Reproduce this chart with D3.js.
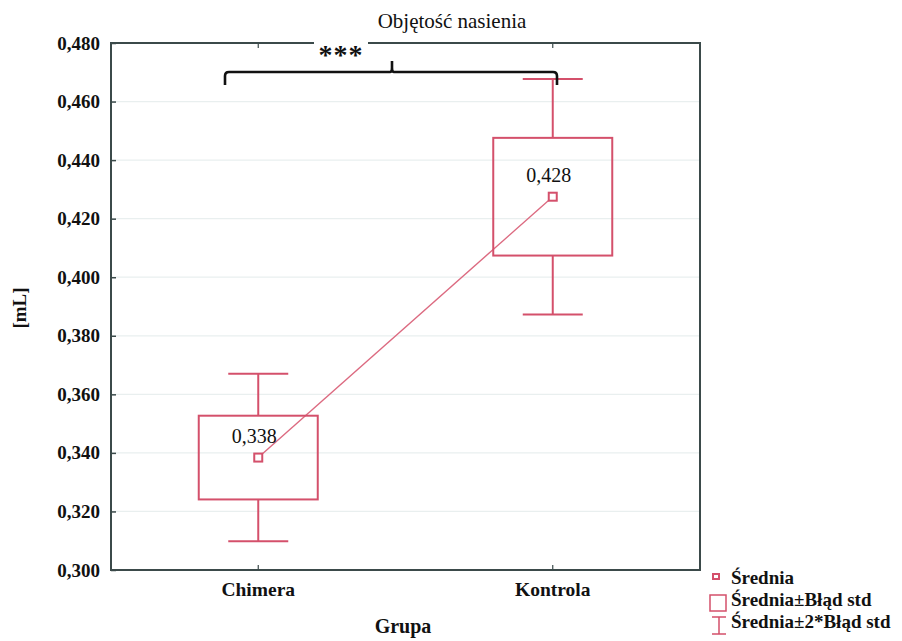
<!DOCTYPE html>
<html>
<head>
<meta charset="utf-8">
<script src="https://cdn.jsdelivr.net/npm/d3@7.9.0/dist/d3.min.js"></script>
<style>
  body { margin: 0; background: #fff; }
</style>
</head>
<body>
<svg width="902" height="641"></svg>
<script>
// data
const groups = ['Chimera', 'Kontrola'];
const means = [0.3384, 0.4275];
const stdErr = [0.0143, 0.0201];
const meanLabels = ['0,338', '0,428'];
const yTicks = [0.300, 0.320, 0.340, 0.360, 0.380, 0.400, 0.420, 0.440, 0.460, 0.480];

const red = '#d4506b';
const axisCol = '#3b4a4a';
const serif = '"Liberation Serif", "Times New Roman", serif';

const svg = d3.select('svg');
const plotL = 111, plotR = 700, plotT = 43, plotB = 570;

let x = d3.scaleBand().domain(groups).range([plotL, plotR]);
let y = d3.scaleLinear().domain([0.300, 0.480]).range([plotB, plotT]);

// gridlines
svg.append('g')
  .selectAll('line')
  .data(yTicks.slice(1, -1))
  .join('line')
  .attr('x1', plotL).attr('x2', plotR)
  .attr('y1', d => y(d)).attr('y2', d => y(d))
  .attr('stroke', '#e9efef').attr('stroke-width', 1.2);

// y axis
let fmt = d => d3.format('.3f')(d).replace('.', ',');
let yAxis = svg.append('g')
  .attr('transform', `translate(${plotL},0)`)
  .call(d3.axisLeft(y).tickValues(yTicks).tickFormat(fmt).tickSize(-5).tickPadding(11));
yAxis.select('.domain').remove();
yAxis.selectAll('line').attr('stroke', axisCol).attr('stroke-width', 1.5);
yAxis.selectAll('text').style('font-size', '19px').style('font-weight', 'bold');

// x axis
let xAxis = svg.append('g')
  .attr('transform', `translate(0,${plotB})`)
  .call(d3.axisBottom(x).tickSize(-5).tickPadding(12));
xAxis.select('.domain').remove();
xAxis.selectAll('line').attr('stroke', axisCol).attr('stroke-width', 1.2);
xAxis.selectAll('text').style('font-size', '19.5px').style('font-weight', 'bold');

// top ticks
svg.append('g').selectAll('line').data(groups).join('line')
  .attr('x1', d => x(d) + x.bandwidth() / 2).attr('x2', d => x(d) + x.bandwidth() / 2)
  .attr('y1', plotT).attr('y2', plotT + 5)
  .attr('stroke', axisCol).attr('stroke-width', 1.2);

// frame
svg.append('rect')
  .attr('x', plotL).attr('y', plotT)
  .attr('width', plotR - plotL).attr('height', plotB - plotT)
  .attr('fill', 'none').attr('stroke', axisCol).attr('stroke-width', 2);

// line between means
let cx = i => x(groups[i]) + x.bandwidth() / 2;
svg.append('path')
  .attr('d', d3.line()(means.map((m, i) => [cx(i), y(m)])))
  .attr('stroke', '#dc6a80').attr('stroke-width', 1.4).attr('fill', 'none');

const boxW = 119, capW = 60;
groups.forEach((g, i) => {
  let c = cx(i), m = means[i], se = stdErr[i];
  let grp = svg.append('g').attr('stroke', red).attr('stroke-width', 2).attr('fill', 'none');
  // whiskers
  grp.append('line').attr('x1', c).attr('x2', c).attr('y1', y(m + 2 * se)).attr('y2', y(m + se));
  grp.append('line').attr('x1', c).attr('x2', c).attr('y1', y(m - se)).attr('y2', y(m - 2 * se));
  grp.append('line').attr('x1', c - capW / 2).attr('x2', c + capW / 2).attr('y1', y(m + 2 * se)).attr('y2', y(m + 2 * se));
  grp.append('line').attr('x1', c - capW / 2).attr('x2', c + capW / 2).attr('y1', y(m - 2 * se)).attr('y2', y(m - 2 * se));
  // box
  grp.append('rect')
    .attr('x', c - boxW / 2).attr('y', y(m + se))
    .attr('width', boxW).attr('height', y(m - se) - y(m + se));
  // mean marker
  grp.append('rect')
    .attr('x', c - 4).attr('y', y(m) - 4).attr('width', 8).attr('height', 8)
    .attr('fill', '#fff');
  // label
  svg.append('text')
    .attr('x', c - 4).attr('y', y(m) - 15)
    .attr('text-anchor', 'middle').style('font-size', '20px')
    .text(meanLabels[i]);
});

// significance bracket
let bx1 = 225, bx2 = 557, by = 72, mid = 392;
svg.append('path')
  .attr('d', `M${bx1},${by + 13} L${bx1},${by + 4} Q${bx1},${by} ${bx1 + 4},${by}
    L${mid - 2},${by} Q${mid},${by} ${mid},${by - 4} L${mid},${by - 11} L${mid},${by - 4} Q${mid},${by} ${mid + 2},${by}
    L${bx2 - 4},${by} Q${bx2},${by} ${bx2},${by + 4} L${bx2},${by + 13}`)
  .attr('fill', 'none').attr('stroke', '#111').attr('stroke-width', 2.6);

svg.append('rect').attr('x', 314).attr('y', 40).attr('width', 54).attr('height', 6).attr('fill', '#fff');
svg.append('text')
  .attr('x', 341).attr('y', 64)
  .attr('text-anchor', 'middle').style('font-size', '28px').style('font-weight', 'bold')
  .attr('letter-spacing', 1)
  .text('***');

// titles
svg.append('text')
  .attr('x', 452).attr('y', 28)
  .attr('text-anchor', 'middle').style('font-size', '21px')
  .text('Objętość nasienia');
svg.append('text')
  .attr('x', 403).attr('y', 633)
  .attr('text-anchor', 'middle').style('font-size', '20px').style('font-weight', 'bold')
  .text('Grupa');
svg.append('text')
  .attr('transform', 'translate(26,308) rotate(-90)')
  .attr('text-anchor', 'middle').style('font-size', '19px').style('font-weight', 'bold')
  .text('[mL]');

// legend
const legendItems = ['Średnia', 'Średnia±Błąd std', 'Średnia±2*Błąd std'];
let lg = svg.append('g');
legendItems.forEach((t, i) => {
  lg.append('text')
    .attr('x', 731).attr('y', 584 + i * 22)
    .style('font-size', '19px').style('font-weight', 'bold')
    .text(t);
});
lg.append('rect').attr('x', 713).attr('y', 574).attr('width', 6).attr('height', 5)
  .attr('fill', '#fff').attr('stroke', red).attr('stroke-width', 2);
lg.append('rect').attr('x', 710).attr('y', 595).attr('width', 16).attr('height', 16)
  .attr('fill', 'none').attr('stroke', red).attr('stroke-width', 1.5);
lg.append('path').attr('d', 'M712,617 L726,617 M719,617 L719,634 M712,634 L726,634')
  .attr('fill', 'none').attr('stroke', red).attr('stroke-width', 1.5);

// all text in a Times-like face
svg.selectAll('text').style('font-family', serif).attr('fill', '#111');
</script>
</body>
</html>
